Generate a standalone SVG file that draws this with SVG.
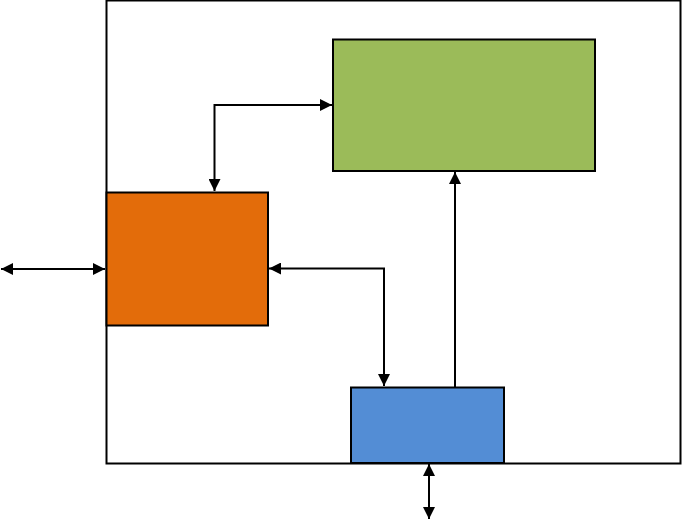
<svg xmlns="http://www.w3.org/2000/svg" width="682" height="520" viewBox="0 0 682 520">
  <style>
    .box { stroke: #000; stroke-width: 2; }
    .wire { fill: none; stroke: #000; stroke-width: 2; }
  </style>
  <defs>
    <marker id="ah" viewBox="0 0 10 10" refX="10" refY="5" markerWidth="12" markerHeight="12" markerUnits="userSpaceOnUse" orient="auto-start-reverse">
      <path d="M0,0 L10,5 L0,10 Z" fill="#000"/>
    </marker>
  </defs>
  <rect id="frame" x="106.5" y="0.5" width="574" height="463" fill="#fff" stroke="#000" stroke-width="2"/>
  <g id="green">
    <rect class="box" x="333" y="39.5" width="262" height="131.5" fill="#9BBB59"/>
  </g>
  <g id="orange">
    <rect class="box" x="106.5" y="192.5" width="161.5" height="133" fill="#E36C0A"/>
  </g>
  <g id="blue">
    <rect class="box" x="351" y="387.5" width="153" height="75.5" fill="#538DD5"/>
  </g>
  <g id="connectors">
    <path class="wire" d="M1,269 L105,269" marker-start="url(#ah)" marker-end="url(#ah)"/>
    <path class="wire" d="M332,105 L214.5,105 L214.5,191" marker-start="url(#ah)" marker-end="url(#ah)"/>
    <path class="wire" d="M269,268.5 L384,268.5 L384,386" marker-start="url(#ah)" marker-end="url(#ah)"/>
    <path class="wire" d="M455,387 L455,172" marker-end="url(#ah)"/>
    <path class="wire" d="M429,464 L429,519" marker-start="url(#ah)" marker-end="url(#ah)"/>
  </g>
</svg>
